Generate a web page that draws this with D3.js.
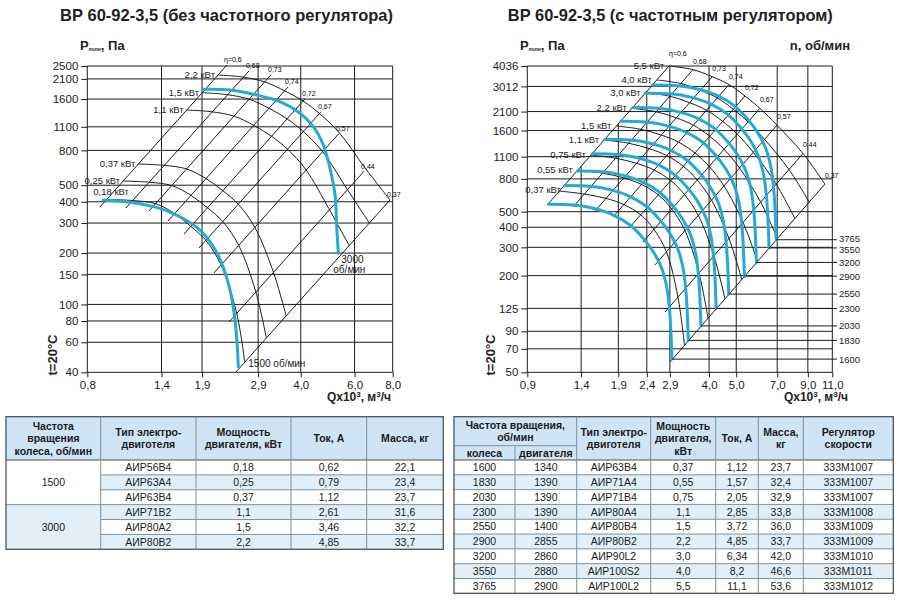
<!DOCTYPE html>
<html><head><meta charset="utf-8">
<script src="https://cdn.jsdelivr.net/npm/d3@7"></script>
<style>body{margin:0;background:#fff}svg{display:block}</style>
</head><body><svg id="c" width="900" height="604"></svg>
<script>
// ---------------- DATA ----------------
const leftTitle = "ВР 60-92-3,5 (без частотного регулятора)";
const rightTitle = "ВР 60-92-3,5 (с частотным регулятором)";
const leftXTicks = [0.8, 1.4, 1.9, 2.9, 4.0, 6.0, 8.0];
const leftYTicks = [2500, 2100, 1600, 1100, 800, 500, 400, 300, 200, 150, 100, 80, 60, 40];
const rightXTicks = [0.9, 1.4, 1.9, 2.4, 2.9, 4.0, 5.0, 7.0, 9.0, 11.0];
const rightYTicks = [4036, 3012, 2100, 1600, 1100, 800, 500, 400, 300, 200, 125, 90, 70, 50];
const etaLabels = ["η=0,6", "0,68", "0,73", "0,74", "0,72", "0,67", "0,57", "0,44", "0,37"];

// efficiency lines: [Q, P] at lower and upper end
const leftEtaBottom = [[0.880,372.6],[1.071,367.6],[1.274,353],[1.470,308.4],[1.659,258.8],[1.857,214.1],[2.079,152.9],[2.328,78.8],[2.455,40.2]];
const leftEtaTop = [[2.294,2534],[2.707,2337],[3.196,2222],[3.634,1883],[4.130,1604],[4.660,1348],[5.337,1006.5],[6.446,604],[7.839,409.6]];
// top characteristic (2,2 кВт) where it crosses each efficiency line
const leftTopCurve = [[2.143,2214],[2.578,2155],[3.054,2014],[3.552,1784],[4.069,1559],[4.607,1316],[5.357,1012],[6.495,630.9],[7.839,409.6]];
const leftPowerLabels = ["2,2 кВт", "1,5 кВт", "1,1 кВт", "0,37 кВт", "0,25 кВт", "0,18 кВт"];
const leftPowerStartP = [2214, 1743, 1380, 665.8, 529.3, 412.3];
const leftBlue1500 = [[0.903,409.6],[1.132,394.8],[1.384,366],[1.609,326.8],[1.871,273],[2.069,218],[2.204,174.2],[2.346,121.5],[2.436,81],[2.479,56.5],[2.498,43.1]];
const leftBlue3000 = [[1.919,1825],[2.346,1808],[2.870,1690],[3.420,1544],[3.977,1320],[4.397,1102],[4.742,860.5],[4.987,628.4],[5.179,438],[5.246,285.6],[5.309,199.4]];

const rightEtaBottom = [[1.067,558],[1.31,535],[1.569,505],[1.818,463],[2.09,401],[2.325,324],[2.566,233],[2.786,118.6],[2.902,57.9]];
const rightEtaTop = [[2.88,4036],[3.506,3832],[4.107,3463],[4.711,3095],[5.372,2625],[6.074,2200],[6.985,1727],[8.646,1152],[10.35,743]];
const rightPowerLabels = ["5,5 кВт", "4,0 кВт", "3,0 кВт", "2,2 кВт", "1,5 кВт", "1,1 кВт", "0,75 кВт", "0,55 кВт", "0,37 кВт"];
const rightPowerStartP = [4036, 3303, 2751, 2200, 1708, 1397, 1126, 908, 672];
// blue characteristic at 1600 об/мин (read), other speeds via fan affinity laws
const rightBlueBase = [[1.069,555.7],[1.313,550],[1.547,524.6],[1.823,476.6],[2.09,413],[2.331,341],[2.531,281.6],[2.712,222],[2.825,170.5],[2.886,128],[2.92,96],[2.95,60.4]];
const rightBlueBaseRpm = 1600;
const rightBlueRpm = [1600, 1830, 2030, 2300, 2550, 2900, 3200, 3550, 3765];

// tables
const t1Speed = ["1500", "3000"];
const t1Motor = ["АИР56В4", "АИР63А4", "АИР63В4", "АИР71В2", "АИР80А2", "АИР80В2"];
const t1Power = ["0,18", "0,25", "0,37", "1,1", "1,5", "2,2"];
const t1Current = ["0,62", "0,79", "1,12", "2,61", "3,46", "4,85"];
const t1Mass = ["22,1", "23,4", "23,7", "31,6", "32,2", "33,7"];
const t2Wheel = ["1600", "1830", "2030", "2300", "2550", "2900", "3200", "3550", "3765"];
const t2MotorRpm = ["1340", "1390", "1390", "1390", "1400", "2855", "2860", "2880", "2900"];
const t2Motor = ["АИР63В4", "АИР71А4", "АИР71В4", "АИР80А4", "АИР80В4", "АИР80В2", "АИР90L2", "АИР100S2", "АИР100L2"];
const t2Power = ["0,37", "0,55", "0,75", "1,1", "1,5", "2,2", "3,0", "4,0", "5,5"];
const t2Current = ["1,12", "1,57", "2,05", "2,85", "3,72", "4,85", "6,34", "8,2", "11,1"];
const t2Mass = ["23,7", "32,4", "32,9", "33,8", "36,0", "33,7", "42,0", "46,6", "53,6"];
const t2Reg = ["333M1007", "333M1007", "333M1007", "333M1008", "333M1009", "333M1009", "333M1010", "333M1011", "333M1012"];

// ---------------- DRAWING ----------------
const FONT = 'Arial, "Liberation Sans", Helvetica, sans-serif';
const BLUE = '#26aad5';
const INK = '#1c1c1c';
const svg = d3.select('#c').attr('font-family', FONT);
const fmtX = d => d3.format('.1f')(d).replace('.', ',');
const L10 = Math.log10;

function meshCurve(bottom, top, t) {
  return bottom.map((b, i) => {
    const tp = top[i];
    return [Math.pow(10, L10(b[0]) * (1 - t) + L10(tp[0]) * t),
            Math.pow(10, L10(b[1]) * (1 - t) + L10(tp[1]) * t)];
  });
}

function drawChart(c) {
  const g = svg.append('g');
  const x = d3.scaleLog().domain(d3.extent(c.xTicks)).range(c.xRange);
  const y = d3.scaleLog().domain(d3.extent(c.yTicks)).range(c.yRange);
  const [x0, x1] = c.xRange, [yb, yt] = c.yRange;
  const line = d3.line().x(d => x(d[0])).y(d => y(d[1])).curve(d3.curveCatmullRom.alpha(0.5));
  const straight = d3.line().x(d => x(d[0])).y(d => y(d[1]));

  // grid
  g.append('g').selectAll('line').data(c.yTicks).join('line')
    .attr('x1', x0).attr('x2', x1).attr('y1', d => y(d)).attr('y2', d => y(d))
    .attr('stroke', INK).attr('stroke-width', 1);
  g.append('g').selectAll('line').data(c.xTicks).join('line')
    .attr('x1', d => x(d)).attr('x2', d => x(d)).attr('y1', yb)
    .attr('y2', (d, i) => {
      if (!c.clipGrid || i === 0) return yt;
      const b = c.etaBottom[0];
      const p = b[1] * Math.pow(d / b[0], 2);
      return Math.max(yt, y(p));
    })
    .attr('stroke', INK).attr('stroke-width', 1);

  // axes
  const ay = g.append('g').attr('transform', `translate(${x0},0)`)
    .call(d3.axisLeft(y).tickValues(c.yTicks).tickFormat(d => d).tickSize(6).tickPadding(3));
  const ax = g.append('g').attr('transform', `translate(0,${yb})`)
    .call(d3.axisBottom(x).tickValues(c.xTicks).tickFormat(fmtX).tickSize(5).tickPadding(4));
  [ay, ax].forEach(a => {
    a.select('.domain').remove();
    a.selectAll('line').attr('stroke', INK);
    a.selectAll('text').attr('font-size', 11.5).attr('fill', INK).attr('font-family', FONT);
  });

  // efficiency lines
  g.append('g').selectAll('path').data(c.etaBottom).join('path')
    .attr('d', (d, i) => straight([d, c.etaTop[i]]))
    .attr('fill', 'none').attr('stroke', INK).attr('stroke-width', 1);
  g.append('g').selectAll('text').data(c.etaTop).join('text')
    .attr('x', d => x(d[0]) + c.etaDx).attr('y', (d, i) => y(d[1]) + c.etaDy + (i === 0 ? c.eta0Dy : 0))
    .attr('font-size', 7).attr('fill', '#000').text((d, i) => etaLabels[i]);

  // black characteristics (power curves)
  const pb0 = c.etaBottom[0][1], pt0 = c.meshTop[0][1];
  const curves = c.powerStartP.map(p => meshCurve(c.etaBottom, c.meshTop, (L10(p) - L10(pb0)) / (L10(pt0) - L10(pb0))));
  g.append('g').selectAll('path').data(curves).join('path')
    .attr('d', line).attr('fill', 'none').attr('stroke', INK).attr('stroke-width', 1);

  // blue speed curves
  g.append('g').selectAll('path').data(c.blue).join('path')
    .attr('d', line).attr('fill', 'none').attr('stroke', BLUE).attr('stroke-width', 3)
    .attr('stroke-linecap', 'round');

  // power labels
  const lg = g.append('g');
  curves.forEach((cv, i) => {
    const sx = x(cv[0][0]), sy = y(cv[0][1]);
    const t = lg.append('text').attr('font-size', 9.5).attr('fill', INK).attr('text-anchor', 'end')
      .text(c.powerLabels[i]);
    const w = t.node().getComputedTextLength();
    let ex = sx - c.labGap, ey = sy + 3;
    if (ex - w < x0 - 4) { ex = x0 - 4 + w + c.clampShift; ey = sy + c.clampDy; }
    t.attr('x', ex).attr('y', ey);
  });
  return {g, x, y};
}

// titles
function title(txt, cx, len) {
  svg.append('text').attr('x', cx).attr('y', 20.5).attr('text-anchor', 'middle')
    .attr('font-size', 17).attr('font-weight', 'bold').attr('fill', '#222')
    .attr('textLength', len).attr('lengthAdjust', 'spacingAndGlyphs').text(txt);
}
title(leftTitle, 226.5, 333);
title(rightTitle, 670.3, 325);

function pLabel(x0) {
  const t = svg.append('text').attr('x', x0).attr('y', 49.5).attr('font-size', 13)
    .attr('font-weight', 'bold').attr('fill', '#222');
  t.append('tspan').text('P');
  t.append('tspan').attr('font-size', 5).attr('dy', 1.5).text('полн');
  t.append('tspan').attr('dy', -1.5).text(', Па');
}
pLabel(80); pLabel(520);
svg.append('text').attr('x', 850).attr('y', 49.5).attr('text-anchor', 'end').attr('font-size', 13)
  .attr('font-weight', 'bold').attr('fill', '#222').text('n, об/мин');

function qLabel(xe) {
  const t = svg.append('text').attr('x', xe).attr('y', 401).attr('text-anchor', 'end')
    .attr('font-size', 12).attr('font-weight', 'bold').attr('fill', '#222');
  t.append('tspan').text('Qx10');
  t.append('tspan').attr('font-size', 8).attr('dy', -4).text('3');
  t.append('tspan').attr('dy', 4).text(', м');
  t.append('tspan').attr('font-size', 8).attr('dy', -4).text('3');
  t.append('tspan').attr('dy', 4).text('/ч');
}
qLabel(391); qLabel(848);
[56.5, 495].forEach(xx => svg.append('text').attr('transform', `translate(${xx},355) rotate(-90)`)
  .attr('text-anchor', 'middle').attr('font-size', 13).attr('font-weight', 'bold').attr('fill', '#222').text('t=20°C'));

// left chart
const L = drawChart({
  xTicks: leftXTicks, yTicks: leftYTicks, xRange: [87.3, 392.7], yRange: [372.3, 66],
  etaBottom: leftEtaBottom, etaTop: leftEtaTop, meshTop: leftTopCurve,
  powerStartP: leftPowerStartP, powerLabels: leftPowerLabels,
  blue: [leftBlue1500, leftBlue3000], etaDx: -3, etaDy: -2.5, eta0Dy: 0, clipGrid: false,
  labGap: 3, clampShift: 10, clampDy: -4.5
});
{
  const e1 = leftBlue1500[leftBlue1500.length - 1], e2 = leftBlue3000[leftBlue3000.length - 1];
  L.g.append('text').attr('x', L.x(e1[0]) + 10).attr('y', L.y(e1[1]) + 0.5).attr('font-size', 10).attr('fill', INK).text('1500 об/мин');
  L.g.append('text').attr('x', L.x(e2[0]) + 3).attr('y', L.y(e2[1]) + 9.5).attr('font-size', 10).attr('fill', INK).text('3000');
  L.g.append('text').attr('x', L.x(e2[0]) - 5).attr('y', L.y(e2[1]) + 19.5).attr('font-size', 10).attr('fill', INK).text('об/мин');
}

// right chart
const rightBlue = rightBlueRpm.map(n => {
  const k = n / rightBlueBaseRpm;
  return rightBlueBase.map(([q, p]) => [q * k, p * k * k]);
});
const R = drawChart({
  xTicks: rightXTicks, yTicks: rightYTicks, xRange: [527.3, 832.3], yRange: [372.3, 66],
  etaBottom: rightEtaBottom, etaTop: rightEtaTop, meshTop: rightEtaTop,
  powerStartP: rightPowerStartP, powerLabels: rightPowerLabels,
  blue: rightBlue, etaDx: 0, etaDy: -6, eta0Dy: -4, clipGrid: true,
  labGap: 5, clampShift: 2, clampDy: 2
});
{
  const rg = R.g.append('g');
  const nudge = {3765: -1.2, 3550: 1.2};
  rightBlue.forEach((cv, i) => {
    const e = cv[cv.length - 1];
    const ex = R.x(e[0]), ey = R.y(e[1]);
    rg.append('line').attr('x1', ex).attr('x2', 837).attr('y1', ey).attr('y2', ey).attr('stroke', INK).attr('stroke-width', 1);
    rg.append('text').attr('x', 839).attr('y', ey + 3.4 + (nudge[rightBlueRpm[i]] || 0))
      .attr('font-size', 9.5).attr('fill', INK).text(rightBlueRpm[i]);
  });
}

// ---------------- TABLES ----------------
const HEAD = '#cfe4f4', ALT = '#e2eff9', GL = '#7f90a0', OUT = '#4a545e', TXT = '#1a1a1a';
function cellText(g, cx, cy, lines, bold, fs) {
  const lh = fs * 1.2;
  lines.forEach((s, i) => {
    g.append('text').attr('x', cx).attr('y', cy + (i - (lines.length - 1) / 2) * lh + fs * 0.36)
      .attr('text-anchor', 'middle').attr('font-size', fs).attr('font-weight', bold ? 'bold' : 'normal')
      .attr('fill', TXT).text(s);
  });
}
function hline(g, x1, x2, yy, col, w) { g.append('line').attr('x1', x1).attr('x2', x2).attr('y1', yy).attr('y2', yy).attr('stroke', col).attr('stroke-width', w || 1); }
function vline(g, xx, y1, y2, col, w) { g.append('line').attr('x1', xx).attr('x2', xx).attr('y1', y1).attr('y2', y2).attr('stroke', col).attr('stroke-width', w || 1); }

// left table
{
  const g = svg.append('g');
  const cols = [6, 100.7, 196, 291, 366.7, 443.3];
  const top = 416.7, hb = 460, n = t1Motor.length, bot = 549.3, rh = (bot - hb) / n;
  g.append('rect').attr('x', cols[0]).attr('y', top).attr('width', cols[5] - cols[0]).attr('height', hb - top).attr('fill', HEAD);
  t1Motor.forEach((m, i) => {
    g.append('rect').attr('x', cols[1]).attr('y', hb + i * rh).attr('width', cols[5] - cols[1]).attr('height', rh)
      .attr('fill', i % 2 ? ALT : '#fff');
  });
  g.append('rect').attr('x', cols[0]).attr('y', hb + 3 * rh).attr('width', cols[1] - cols[0]).attr('height', 3 * rh).attr('fill', ALT);
  for (let i = 1; i < n; i++) hline(g, i % 3 === 0 ? cols[0] : cols[1], cols[5], hb + i * rh, GL);
  hline(g, cols[0], cols[5], hb, OUT, 1.2);
  cols.slice(1, 5).forEach(cx => vline(g, cx, top, bot, GL));
  g.append('rect').attr('x', cols[0]).attr('y', top).attr('width', cols[5] - cols[0]).attr('height', bot - top)
    .attr('fill', 'none').attr('stroke', OUT).attr('stroke-width', 1.3);
  const hdr = [["Частота", "вращения", "колеса, об/мин"], ["Тип электро-", "двиготеля"], ["Мощность", "двигателя, кВт"], ["Ток, А"], ["Масса, кг"]];
  hdr.forEach((h, j) => cellText(g, (cols[j] + cols[j + 1]) / 2, (top + hb) / 2, h, true, 10.5));
  t1Speed.forEach((s, k) => cellText(g, (cols[0] + cols[1]) / 2, hb + (k * 3 + 1.5) * rh, [s], false, 10.5));
  [t1Motor, t1Power, t1Current, t1Mass].forEach((arr, j) => arr.forEach((s, i) =>
    cellText(g, (cols[j + 1] + cols[j + 2]) / 2, hb + (i + 0.5) * rh, [s], false, 10.5)));
}

// right table
{
  const g = svg.append('g');
  const cols = [454, 515, 576.7, 650.7, 715.7, 758.3, 803.3, 893.3];
  const top = 416.7, mid = 445.7, hb = 460, n = t2Wheel.length, bot = 593.3, rh = (bot - hb) / n;
  g.append('rect').attr('x', cols[0]).attr('y', top).attr('width', cols[7] - cols[0]).attr('height', hb - top).attr('fill', HEAD);
  t2Wheel.forEach((m, i) => {
    g.append('rect').attr('x', cols[0]).attr('y', hb + i * rh).attr('width', cols[7] - cols[0]).attr('height', rh)
      .attr('fill', i % 2 ? ALT : '#fff');
  });
  for (let i = 1; i < n; i++) hline(g, cols[0], cols[7], hb + i * rh, GL);
  hline(g, cols[0], cols[2], mid, GL);
  hline(g, cols[0], cols[7], hb, OUT, 1.2);
  vline(g, cols[1], mid, bot, GL);
  cols.slice(2, 7).forEach(cx => vline(g, cx, top, bot, GL));
  g.append('rect').attr('x', cols[0]).attr('y', top).attr('width', cols[7] - cols[0]).attr('height', bot - top)
    .attr('fill', 'none').attr('stroke', OUT).attr('stroke-width', 1.3);
  cellText(g, (cols[0] + cols[2]) / 2, (top + mid) / 2, ["Частота вращения,", "об/мин"], true, 10.5);
  cellText(g, (cols[0] + cols[1]) / 2, (mid + hb) / 2, ["колеса"], true, 10.5);
  cellText(g, (cols[1] + cols[2]) / 2, (mid + hb) / 2, ["двигателя"], true, 10.5);
  const hdr = [["Тип электро-", "двиготеля"], ["Мощность", "двигателя,", "кВт"], ["Ток, А"], ["Масса,", "кг"], ["Регулятор", "скорости"]];
  hdr.forEach((h, j) => cellText(g, (cols[j + 2] + cols[j + 3]) / 2, (top + hb) / 2, h, true, 10.5));
  [t2Wheel, t2MotorRpm, t2Motor, t2Power, t2Current, t2Mass, t2Reg].forEach((arr, j) => arr.forEach((s, i) =>
    cellText(g, (cols[j] + cols[j + 1]) / 2, hb + (i + 0.5) * rh, [s], false, 10.5)));
}
</script></body></html>
